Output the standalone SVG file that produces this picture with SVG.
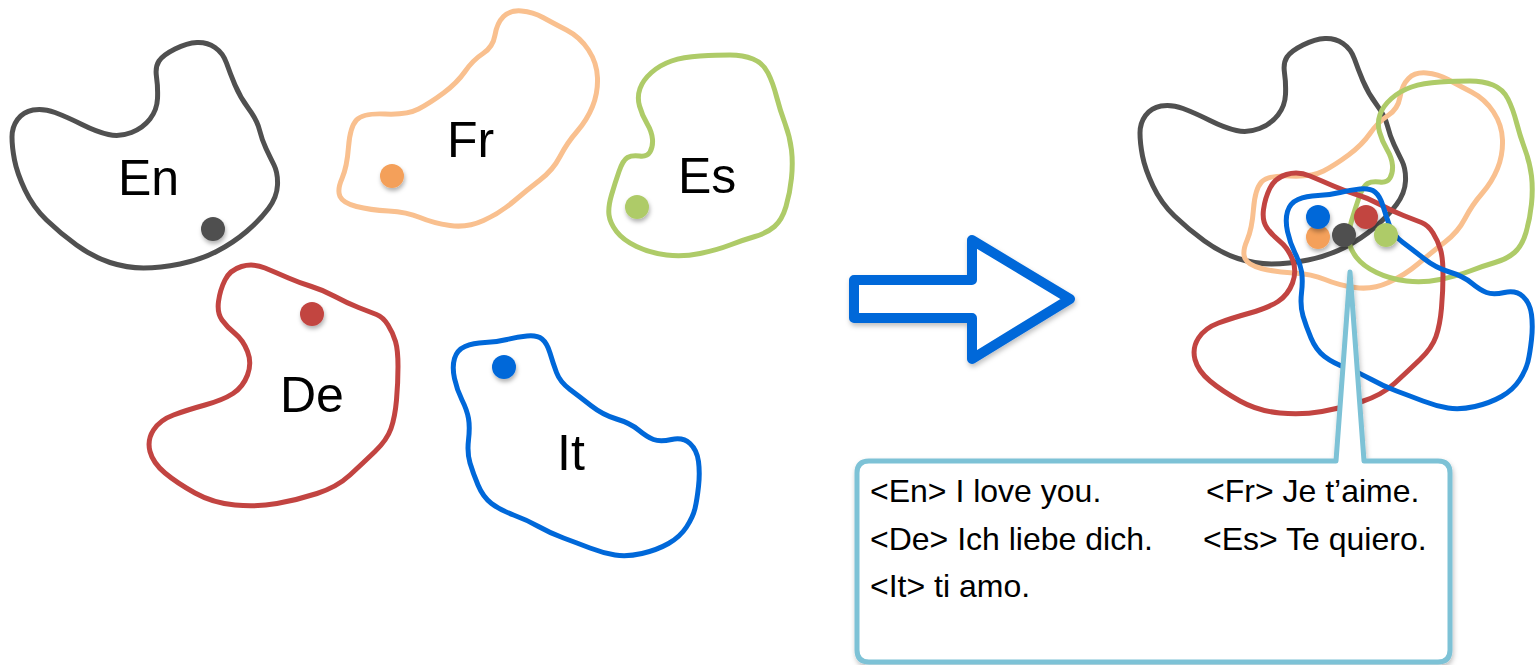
<svg xmlns="http://www.w3.org/2000/svg" xmlns:xlink="http://www.w3.org/1999/xlink" width="1536" height="665" viewBox="0 0 1536 665">
  <style>
    .blob { fill: none; stroke-width: 5; stroke-linejoin: round; }
    .en { stroke: #505050; }
    .fr { stroke: #f9c08f; }
    .es { stroke: #aecb68; }
    .de { stroke: #c24441; }
    .it { stroke: #0068d9; }
    .label { font-family: "Liberation Sans", Arial, sans-serif; font-size: 50px; fill: #000; }
    .line { font-family: "Liberation Sans", Arial, sans-serif; font-size: 32px; fill: #000; }
    .dot { filter: url(#soft); }
  </style>
  <defs>
    <filter id="soft" x="-50%" y="-50%" width="200%" height="200%">
      <feDropShadow dx="1" dy="3" stdDeviation="2" flood-color="#000" flood-opacity="0.3"/>
    </filter>
    <filter id="lift" x="-10%" y="-10%" width="120%" height="130%">
      <feDropShadow dx="1" dy="3" stdDeviation="2.5" flood-color="#000" flood-opacity="0.25"/>
    </filter>
    <!-- outlines of the five language regions -->
    <path id="shape-en" d="M 12,137 Q 12,127 17.5,119.5 Q 23,112 33,110 Q 43,108 55,112.5 Q 67,117 82,124.5 Q 97,132 108.5,134.5 Q 120,137 131.5,132.5 Q 143,128 150,119 Q 157,110 157.5,98.5 Q 158,87 156.5,77 Q 155,67 159,61 Q 163,55 175,49 Q 187,43 197,42.5 Q 207,42 215,47.5 Q 223,53 226.5,63 Q 230,73 235,85 Q 240,97 248.5,108.5 Q 257,120 259.5,130 Q 262,140 266,148.5 Q 270,157 274,165 Q 278,173 277.5,185 Q 277,197 268.5,208.5 Q 260,220 246.5,231.5 Q 233,243 216.5,251.5 Q 200,260 180,264 Q 160,268 143.5,268 Q 127,268 110,262.5 Q 93,257 76.5,245 Q 60,233 46.5,220 Q 33,207 25,190 Q 17,173 14.5,160 Q 12,147 12,137 Z"/>
    <path id="shape-fr" d="M 340,196.5 Q 337,190 342,178.5 Q 347,167 348.5,147 Q 350,127 356.5,120 Q 363,113 385,114 Q 407,115 418.5,109 Q 430,103 443.5,93 Q 457,83 465,71.5 Q 473,60 483,53.5 Q 493,47 495,35 Q 497,23 503.5,16.5 Q 510,10 521.5,11 Q 533,12 543,17.5 Q 553,23 566.5,30 Q 580,37 588.5,50 Q 597,63 597.5,78 Q 598,93 592.5,106.5 Q 587,120 577,131.5 Q 567,143 560,156.5 Q 553,170 540,180 Q 527,190 513.5,201.5 Q 500,213 483.5,220.5 Q 467,228 450,225.5 Q 433,223 420,217.5 Q 407,212 388.5,211 Q 370,210 356.5,206.5 Q 343,203 340,196.5 Z"/>
    <path id="shape-es" d="M 609,215 Q 608,207 611.5,195 Q 615,183 619,171.5 Q 623,160 627.5,157.5 Q 632,155 639.5,156 Q 647,157 650,152 Q 653,147 652.5,139.5 Q 652,132 647,123.5 Q 642,115 639.5,106 Q 637,97 640,88.5 Q 643,80 651.5,72.5 Q 660,65 671.5,61 Q 683,57 700,56 Q 717,55 730,55 Q 743,55 753,59 Q 763,63 768,73 Q 773,83 776.5,96.5 Q 780,110 785,123.5 Q 790,137 791.5,150 Q 793,163 791.5,178 Q 790,193 786,206.5 Q 782,220 774.5,226.5 Q 767,233 755,236.5 Q 743,240 730,245 Q 717,250 700,253.5 Q 683,257 666.5,255 Q 650,253 636.5,246.5 Q 623,240 616.5,231.5 Q 610,223 609,215 Z"/>
    <path id="shape-de" d="M 222,320 Q 217,313 218.5,301.5 Q 220,290 225,280 Q 230,270 241.5,266.5 Q 253,263 265,268 Q 277,273 288.5,278 Q 300,283 311.5,286.5 Q 323,290 335,296.5 Q 347,303 358.5,307.5 Q 370,312 376.5,314.5 Q 383,317 388,325 Q 393,333 395.5,341.5 Q 398,350 398,366.5 Q 398,383 396.5,400 Q 395,417 391,428.5 Q 387,440 375,451.5 Q 363,463 350,475 Q 337,487 317,493.5 Q 297,500 277,503.5 Q 257,507 235,505 Q 213,503 195,493 Q 177,483 165,473 Q 153,463 150,451.5 Q 147,440 153.5,430 Q 160,420 173.5,415 Q 187,410 205,405 Q 223,400 233,393.5 Q 243,387 247.5,375 Q 252,363 247.5,351.5 Q 243,340 235,333.5 Q 227,327 222,320 Z"/>
    <path id="shape-it" d="M 454.5,378.5 Q 452,367 454.5,358.5 Q 457,350 465,346.5 Q 473,343 485,342.5 Q 497,342 507,339.5 Q 517,337 527,336 Q 537,335 542,339 Q 547,343 550,353 Q 553,363 556.5,372.5 Q 560,382 570,389.5 Q 580,397 591.5,406 Q 603,415 616.5,419 Q 630,423 638.5,430 Q 647,437 653.5,439.5 Q 660,442 671.5,439.5 Q 683,437 690,443.5 Q 697,450 698.5,461.5 Q 700,473 698.5,486.5 Q 697,500 695,508.5 Q 693,517 686.5,527 Q 680,537 668.5,543.5 Q 657,550 642,553.5 Q 627,557 615,555 Q 603,553 590,548 Q 577,543 563.5,538 Q 550,533 538.5,526.5 Q 527,520 513.5,515 Q 500,510 491.5,503.5 Q 483,497 478,485 Q 473,473 470,463 Q 467,453 468.5,440 Q 470,427 468.5,418.5 Q 467,410 462,400 Q 457,390 454.5,378.5 Z"/>
  </defs>

  <rect width="1536" height="665" fill="#ffffff"/>

  <!-- separate language spaces -->
  <g id="space-en">
    <use xlink:href="#shape-en" href="#shape-en" class="blob en"/>
    <text class="label" x="118" y="195">En</text>
    <circle class="dot" cx="213" cy="229" r="12" fill="#505050"/>
  </g>
  <g id="space-fr">
    <use xlink:href="#shape-fr" href="#shape-fr" class="blob fr"/>
    <text class="label" x="447" y="157">Fr</text>
    <circle class="dot" cx="392" cy="176" r="12" fill="#f4a05a"/>
  </g>
  <g id="space-es">
    <use xlink:href="#shape-es" href="#shape-es" class="blob es"/>
    <text class="label" x="678" y="193">Es</text>
    <circle class="dot" cx="637" cy="207" r="12" fill="#aecb68"/>
  </g>
  <g id="space-de">
    <use xlink:href="#shape-de" href="#shape-de" class="blob de"/>
    <text class="label" x="280" y="412">De</text>
    <circle class="dot" cx="312" cy="314" r="12" fill="#c24441"/>
  </g>
  <g id="space-it">
    <use xlink:href="#shape-it" href="#shape-it" class="blob it"/>
    <text class="label" x="557" y="470">It</text>
    <circle class="dot" cx="504" cy="367" r="12" fill="#0068d9"/>
  </g>

  <!-- transition arrow -->
  <g id="arrow" filter="url(#lift)">
    <polygon points="854,280 972,280 972,240 1070,299 972,359 972,318 854,318" fill="#ffffff" stroke="#0068d9" stroke-width="10" stroke-linejoin="round"/>
  </g>

  <!-- shared space: the same regions overlaid -->
  <g id="shared-space">
    <use xlink:href="#shape-en" href="#shape-en" class="blob en" transform="translate(1128,-4)"/>
    <use xlink:href="#shape-fr" href="#shape-fr" class="blob fr" transform="translate(905,62)"/>
    <use xlink:href="#shape-es" href="#shape-es" class="blob es" transform="translate(740,26)"/>
    <use xlink:href="#shape-de" href="#shape-de" class="blob de" transform="translate(1045,-92)"/>
    <use xlink:href="#shape-it" href="#shape-it" class="blob it" transform="translate(833,-147)"/>
    <circle class="dot" cx="1318" cy="237" r="12" fill="#f4a05a"/>
    <circle class="dot" cx="1318" cy="217" r="12" fill="#0068d9"/>
    <circle class="dot" cx="1344" cy="235" r="12" fill="#505050"/>
    <circle class="dot" cx="1366" cy="217" r="12" fill="#c24441"/>
    <circle class="dot" cx="1386" cy="235" r="12" fill="#aecb68"/>
  </g>

  <!-- callout with the parallel sentences -->
  <g id="callout">
    <path d="M 869,461 H 1336 L 1350,272 L 1364,461 H 1438 Q 1450,461 1450,473 V 650 Q 1450,662 1438,662 H 869 Q 857,662 857,650 V 473 Q 857,461 869,461 Z" fill="#ffffff" stroke="#7dc2d6" stroke-width="5" stroke-linejoin="round" filter="url(#lift)"/>
    <text class="line" x="870" y="502">&lt;En&gt; I love you.</text>
    <text class="line" x="1206" y="502">&lt;Fr&gt; Je t’aime.</text>
    <text class="line" x="870" y="550">&lt;De&gt; Ich liebe dich.</text>
    <text class="line" x="1203" y="550">&lt;Es&gt; Te quiero.</text>
    <text class="line" x="870" y="597">&lt;It&gt; ti amo.</text>
  </g>
</svg>
